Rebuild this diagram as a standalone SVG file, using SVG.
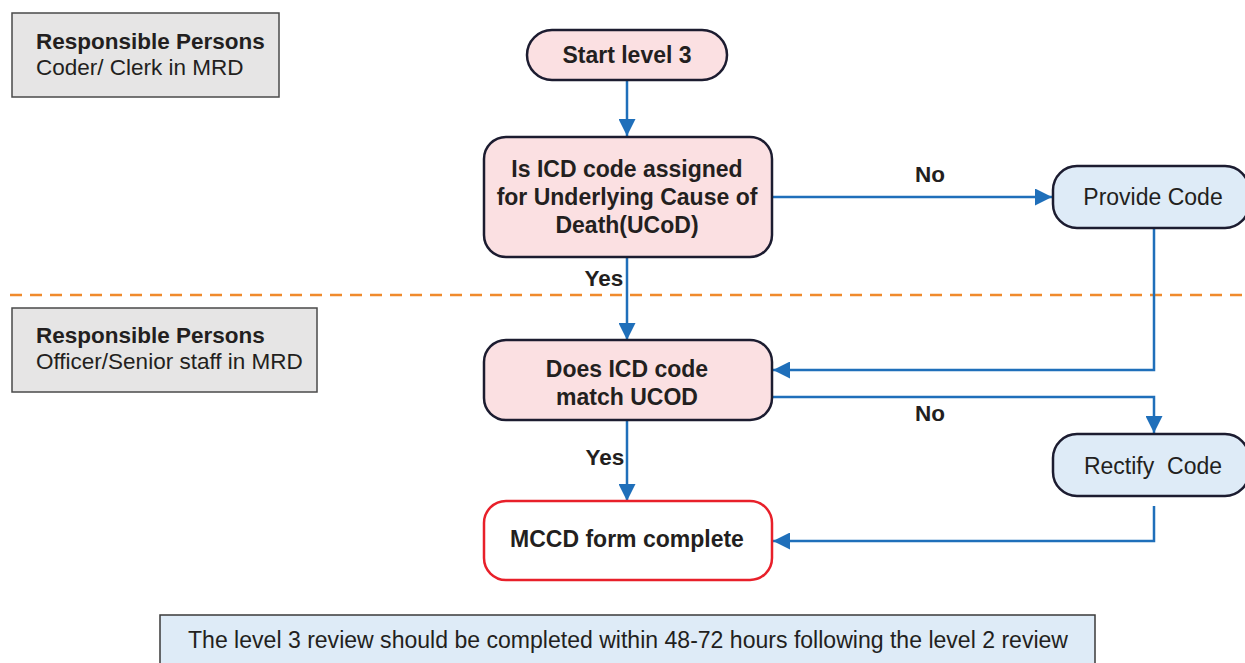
<svg xmlns="http://www.w3.org/2000/svg" width="1245" height="663" viewBox="0 0 1245 663">
<defs>
<style>
.t{font-family:"Liberation Sans",Arial,sans-serif;font-size:22.5px;fill:#231f20}
.n{font-size:23px}
.b{font-weight:bold}
.c{text-anchor:middle}
.resp{fill:#e6e5e5;stroke:#4a4a4a;stroke-width:1.5}
.pink{fill:#fbe0e2;stroke:#1c1c30;stroke-width:2.5}
.blue{fill:#deebf7;stroke:#1c1c30;stroke-width:2.5}
.red{fill:#ffffff;stroke:#e8202a;stroke-width:2.5}
.ln{fill:none;stroke:#1f6fba;stroke-width:2.5}
</style>
<marker id="a" viewBox="0 0 16 16" refX="16" refY="8" markerWidth="17" markerHeight="17" markerUnits="userSpaceOnUse" orient="auto">
<path d="M0,0 L16,8 L0,16 z" fill="#1f6fba"/>
</marker>
</defs>
<rect width="1245" height="663" fill="#ffffff"/>
<line x1="10" y1="295" x2="1245" y2="295" stroke="#f08a2c" stroke-width="2.5" stroke-dasharray="12 8"/>
<g id="resp1">
<rect class="resp" x="12" y="13" width="267" height="84"/>
<text class="t b" x="36" y="49">Responsible Persons</text>
<text class="t" x="36" y="75">Coder/ Clerk in MRD</text>
</g>
<g id="resp2">
<rect class="resp" x="12" y="308" width="305" height="84"/>
<text class="t b" x="36" y="343">Responsible Persons</text>
<text class="t" x="36" y="369">Officer/Senior staff in MRD</text>
</g>
<g id="connectors">
<line class="ln" x1="627" y1="81" x2="627" y2="136" marker-end="url(#a)"/>
<line class="ln" x1="772" y1="197" x2="1052" y2="197" marker-end="url(#a)"/>
<polyline class="ln" points="1154,228 1154,370 773,370" marker-end="url(#a)"/>
<line class="ln" x1="627" y1="257" x2="627" y2="340" marker-end="url(#a)"/>
<polyline class="ln" points="772,397 1154,397 1154,433" marker-end="url(#a)"/>
<line class="ln" x1="627" y1="420" x2="627" y2="501" marker-end="url(#a)"/>
<polyline class="ln" points="1154,506 1154,541 773,541" marker-end="url(#a)"/>
<text class="t b c" x="930" y="182">No</text>
<text class="t b c" x="604" y="286">Yes</text>
<text class="t b c" x="930" y="421">No</text>
<text class="t b c" x="605" y="465">Yes</text>
</g>
<g id="start">
<rect class="pink" x="527" y="30" width="200" height="50" rx="25"/>
<text class="t n b c" x="627" y="63">Start level 3</text>
</g>
<g id="decision1">
<rect class="pink" x="484" y="137" width="288" height="120" rx="22"/>
<text class="t n b c" x="627" y="177">Is ICD code assigned</text>
<text class="t n b c" x="627" y="205">for Underlying Cause of</text>
<text class="t n b c" x="627" y="233">Death(UCoD)</text>
</g>
<g id="provide">
<rect class="blue" x="1053" y="166" width="196" height="62" rx="24"/>
<text class="t n c" x="1153" y="205">Provide Code</text>
</g>
<g id="decision2">
<rect class="pink" x="484" y="340" width="288" height="80" rx="22"/>
<text class="t n b c" x="627" y="377">Does ICD code</text>
<text class="t n b c" x="627" y="405">match UCOD</text>
</g>
<g id="rectify">
<rect class="blue" x="1053" y="434" width="196" height="62" rx="24"/>
<text class="t n c" x="1153" y="474" style="white-space:pre">Rectify  Code</text>
</g>
<g id="complete">
<rect class="red" x="484" y="501" width="288" height="79" rx="22"/>
<text class="t n b c" x="627" y="547">MCCD form complete</text>
</g>
<g id="note">
<rect x="160" y="615" width="935" height="60" fill="#deebf7" stroke="#3a3a3a" stroke-width="1.5"/>
<text class="t c" x="628" y="648" style="font-size:23.5px" textLength="880" lengthAdjust="spacingAndGlyphs">The level 3 review should be completed within 48-72 hours following the level 2 review</text>
</g>
</svg>
